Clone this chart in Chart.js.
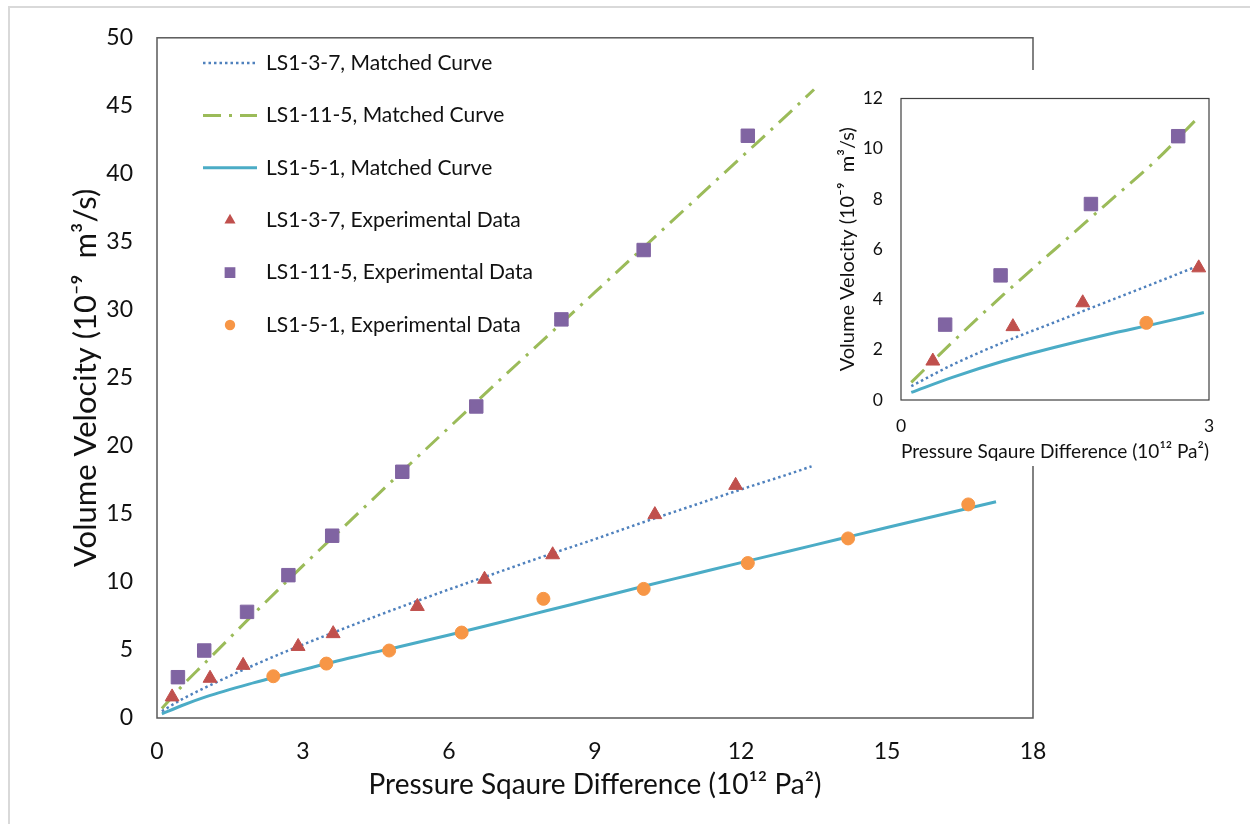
<!DOCTYPE html>
<html><head><meta charset="utf-8">
<script src="https://cdn.jsdelivr.net/npm/chart.js@4.4.1/dist/chart.umd.min.js"></script>
<style>
html,body{margin:0;padding:0;background:#fff;}
#wrap{position:relative;width:1250px;height:824px;overflow:hidden;background:#fff;}
#frame{position:absolute;left:8px;top:6px;width:1260px;height:840px;border-top:2px solid #d9d9d9;border-left:2px solid #d9d9d9;}
#main{position:absolute;left:0;top:0;}
#inset{position:absolute;left:835px;top:70px;background:#fff;}
</style></head><body>
<div id="wrap"><div id="frame"></div>
<canvas id="main" width="1250" height="824"></canvas>
<canvas id="inset" width="410" height="396"></canvas></div>
<script>
// ---- series labels ----
const seriesLabels = [
  'LS1-3-7, Matched Curve',
  'LS1-11-5, Matched Curve',
  'LS1-5-1, Matched Curve',
  'LS1-3-7, Experimental Data',
  'LS1-11-5, Experimental Data',
  'LS1-5-1, Experimental Data'
];
// ---- matched curves (main chart) ----
const curve37X  = [0.1, 0.5, 1, 2, 3, 4, 5, 6, 7, 8, 9, 10, 11, 12, 13, 13.45];
const curve37Y  = [0.5, 1.35, 2.25, 3.9, 5.4, 6.8, 8.15, 9.45, 10.7, 11.95, 13.15, 14.4, 15.6, 16.8, 17.95, 18.5];
const curve115X = [0.1, 0.5, 1, 2, 3, 4, 5, 6, 7, 8, 9, 10, 11, 12, 13, 13.5];
const curve115Y = [0.7, 2.3, 4.1, 7.7, 11.2, 14.6, 18.0, 21.35, 24.7, 28.0, 31.3, 34.6, 37.9, 41.2, 44.5, 46.2];
const curve51X  = [0.1, 0.5, 1, 2, 3, 4, 5, 6, 7, 8, 9, 10, 11, 12, 13, 14, 15, 16, 17.24];
const curve51Y  = [0.3, 0.9, 1.55, 2.6, 3.55, 4.45, 5.25, 6.1, 6.98, 7.88, 8.78, 9.68, 10.55, 11.42, 12.28, 13.14, 14.0, 14.85, 15.9];
// ---- matched curves (inset) ----
const inset37X  = [0.1, 0.5, 1, 1.5, 2, 2.5, 2.92];
const inset37Y  = [0.55, 1.4, 2.3, 3.1, 3.9, 4.7, 5.38];
const inset115X = [0.1, 0.5, 1, 1.5, 2, 2.5, 2.86];
const inset115Y = [0.7, 2.3, 4.2, 6.0, 7.8, 9.6, 11.1];
const inset51X  = [0.1, 0.5, 1, 1.5, 2, 2.5, 2.95];
const inset51Y  = [0.3, 0.9, 1.55, 2.1, 2.6, 3.05, 3.48];
// ---- experimental data ----
const exp37X  = [0.31, 1.09, 1.77, 2.90, 3.62, 5.35, 6.73, 8.13, 10.23, 11.89];
const exp37Y  = [1.55, 2.92, 3.87, 5.26, 6.2, 8.2, 10.2, 12.0, 14.95, 17.1];
const exp115X = [0.43, 0.97, 1.85, 2.70, 3.60, 5.04, 6.56, 8.31, 10.0, 12.14];
const exp115Y = [3.0, 4.96, 7.8, 10.5, 13.4, 18.1, 22.9, 29.3, 34.4, 42.8];
const exp51X  = [2.39, 3.48, 4.77, 6.26, 7.94, 10.0, 12.14, 14.2, 16.67];
const exp51Y  = [3.07, 4.0, 4.96, 6.28, 8.76, 9.49, 11.39, 13.2, 15.7];
// ---- ticks ----
const mainXTicks  = [0, 3, 6, 9, 12, 15, 18];
const mainYTicks  = [0, 5, 10, 15, 20, 25, 30, 35, 40, 45, 50];
const insetXTicks = [0, 3];
const insetYTicks = [0, 2, 4, 6, 8, 10, 12];
const xTitle = 'Pressure Sqaure Difference (10\u00B9\u00B2 Pa\u00B2)';
const yTitle = 'Volume Velocity (10\u207B\u2079  m\u00B3/s)';

const pts = (xs, ys, lim) => xs.map((x, i) => ({x: x, y: ys[i]})).filter(p => lim === undefined || p.x <= lim);

Chart.defaults.font.family = 'Lato';
Chart.defaults.color = '#111';

function buildDatasets(c37, c115, c51, lim) {
  return [
    {label: seriesLabels[0], data: c37, showLine: true, pointRadius: 0, borderColor: '#4F81BD', borderWidth: 2.5, borderDash: [2.5, 3], cubicInterpolationMode: 'monotone', order: 3},
    {label: seriesLabels[1], data: c115, showLine: true, pointRadius: 0, borderColor: '#9BBB59', borderWidth: 3, borderDash: [18, 8, 3, 8], cubicInterpolationMode: 'monotone', order: 3},
    {label: seriesLabels[2], data: c51, showLine: true, pointRadius: 0, borderColor: '#4BACC6', borderWidth: 3, cubicInterpolationMode: 'monotone', order: 3},
    {label: seriesLabels[3], data: pts(exp37X, exp37Y, lim), showLine: false, pointStyle: 'triangle', pointRadius: 8, backgroundColor: '#C0504D', borderColor: '#C0504D', pointBorderWidth: 1, order: 1},
    {label: seriesLabels[4], data: pts(exp115X, exp115Y, lim), showLine: false, pointStyle: 'rect', pointRadius: 9.5, backgroundColor: '#8064A2', borderColor: '#8064A2', pointBorderWidth: 1, order: 1},
    {label: seriesLabels[5], data: pts(exp51X, exp51Y, lim), showLine: false, pointStyle: 'circle', pointRadius: 6.5, backgroundColor: '#F79646', borderColor: '#F79646', pointBorderWidth: 1, order: 1}
  ];
}

const boxPlugin = {
  id: 'plotBox',
  beforeDatasetsDraw(chart, args, o) {
    const a = chart.chartArea, ctx = chart.ctx;
    ctx.save();
    ctx.strokeStyle = o.color; ctx.lineWidth = o.width;
    ctx.strokeRect(a.left, a.top, a.right - a.left, a.bottom - a.top);
    ctx.restore();
  }
};

const legendPlugin = {
  id: 'innerLegend',
  afterDatasetsDraw(chart, args, o) {
    if (!o.show) return;
    const ctx = chart.ctx;
    chart.data.datasets.forEach((ds, i) => {
      const y = o.y0 + i * o.dy;
      const cx = (o.x0 + o.x1) / 2;
      ctx.save();
      if (ds.showLine) {
        ctx.strokeStyle = ds.borderColor; ctx.lineWidth = ds.borderWidth;
        ctx.setLineDash(ds.borderDash || []);
        ctx.beginPath(); ctx.moveTo(o.x0, y); ctx.lineTo(o.x1, y); ctx.stroke();
      } else {
        ctx.fillStyle = ds.backgroundColor;
        const r = ds.pointRadius * 0.8;
        ctx.beginPath();
        if (ds.pointStyle === 'triangle') {
          ctx.moveTo(cx, y - r); ctx.lineTo(cx + r * 0.866, y + r / 2); ctx.lineTo(cx - r * 0.866, y + r / 2); ctx.closePath();
        } else if (ds.pointStyle === 'rect') {
          const s = r / Math.SQRT2; ctx.rect(cx - s, y - s, 2 * s, 2 * s);
        } else {
          ctx.arc(cx, y, r, 0, Math.PI * 2);
        }
        ctx.fill();
      }
      ctx.fillStyle = o.color;
      ctx.font = o.font;
      ctx.textBaseline = 'middle';
      ctx.textAlign = 'left';
      ctx.fillText(ds.label, o.tx, y);
      ctx.restore();
    });
  }
};

function scaleOpts(ticksArr, min, max, fontSize, pad, titleText, titleSize, fit, axis) {
  return {
    type: 'linear', min: min, max: max,
    grid: {display: false, drawTicks: false},
    border: {display: false},
    ticks: {font: {size: fontSize}, padding: pad, color: '#111', autoSkip: false, maxRotation: 0},
    afterBuildTicks: s => { s.ticks = ticksArr.map(v => ({value: v})); },
    afterFit: s => { if (axis === 'x') s.height = fit; else s.width = fit; },
    title: {display: true, text: titleText, font: {size: titleSize}, color: '#111', padding: 0}
  };
}

new Chart(document.getElementById('main'), {
  type: 'scatter',
  data: {datasets: buildDatasets(pts(curve37X, curve37Y), pts(curve115X, curve115Y), pts(curve51X, curve51Y))},
  options: {
    responsive: false, animation: false, devicePixelRatio: 1,
    layout: {padding: {left: 67, top: 34, right: 217, bottom: 22}},
    plugins: {
      legend: {display: false}, tooltip: {enabled: false},
      plotBox: {color: '#595959', width: 1.5},
      innerLegend: {show: true, x0: 203, x1: 257, tx: 266, y0: 63, dy: 52.4, font: '21px Lato', color: '#111'}
    },
    scales: {
      x: scaleOpts(mainXTicks, 0, 18, 23, 20, xTitle, 28, 84, 'x'),
      y: scaleOpts(mainYTicks, 0, 50, 23, 24, yTitle, 31, 90, 'y')
    }
  },
  plugins: [boxPlugin, legendPlugin]
});

new Chart(document.getElementById('inset'), {
  type: 'scatter',
  data: {datasets: buildDatasets(pts(inset37X, inset37Y), pts(inset115X, inset115Y), pts(inset51X, inset51Y), 3)},
  options: {
    responsive: false, animation: false, devicePixelRatio: 1,
    layout: {padding: {left: 1, top: 13, right: 36, bottom: 2}},
    plugins: {
      legend: {display: false}, tooltip: {enabled: false},
      plotBox: {color: '#404040', width: 1.2},
      innerLegend: {show: false}
    },
    scales: {
      x: scaleOpts(insetXTicks, 0, 3, 17.5, 15.5, xTitle, 20, 64, 'x'),
      y: scaleOpts(insetYTicks, 0, 12, 17.5, 18, yTitle, 20, 65, 'y')
    }
  },
  plugins: [boxPlugin, legendPlugin]
});
</script>
</body></html>
